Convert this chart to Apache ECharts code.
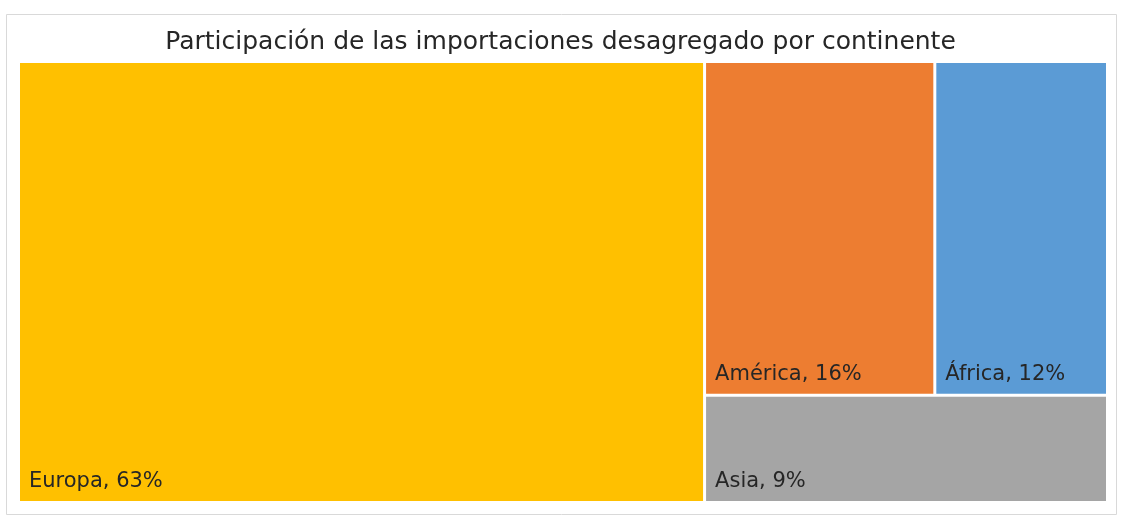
<!DOCTYPE html>
<html>
<head>
<meta charset="utf-8">
<script src="https://cdn.jsdelivr.net/npm/echarts@6/dist/echarts.min.js"></script>
<style>
    html, body { margin: 0; padding: 0; background: #fff; }
    #main { width: 1121px; height: 517px; }
</style>
</head>
<body>
<div id="main"></div>
<script type="text/javascript">
    // datos del treemap
    var continentes = ['Europa', 'América', 'África', 'Asia'];
    var participacion = [63, 16, 12, 9];
    var colores = ['#FFC000', '#ED7D31', '#5B9BD5', '#A5A5A5'];

    var myChart = echarts.init(document.getElementById('main'));

    var data = [];
    for (var i = 0; i < continentes.length; i++) {
        data.push({
            name: continentes[i],
            value: participacion[i],
            itemStyle: { color: colores[i] }
        });
    }

    myChart.setOption({
        animation: false,
        title: {
            text: 'Participación de las importaciones desagregado por continente',
            left: 'center',
            top: 25,
            textStyle: {
                fontFamily: 'DejaVu Sans',
                fontSize: 25,
                fontWeight: 'normal',
                color: '#262626'
            }
        },
        graphic: [{
            type: 'rect',
            shape: { x: 6.5, y: 14.5, width: 1110, height: 500 },
            style: { fill: 'none', stroke: '#d9d9d9', lineWidth: 1 },
            silent: true
        }],
        series: [{
            type: 'treemap',
            left: 20,
            top: 63,
            right: 15,
            bottom: 16,
            roam: false,
            nodeClick: false,
            breadcrumb: { show: false },
            levels: [{
                itemStyle: { gapWidth: 3, borderWidth: 0, borderColor: '#fff' }
            }],
            label: {
                show: true,
                position: 'insideBottomLeft',
                distance: 4,
                formatter: '{b}, {c}%',
                fontFamily: 'DejaVu Sans',
                fontSize: 21,
                color: '#262626'
            },
            data: data
        }]
    });
</script>
</body>
</html>
